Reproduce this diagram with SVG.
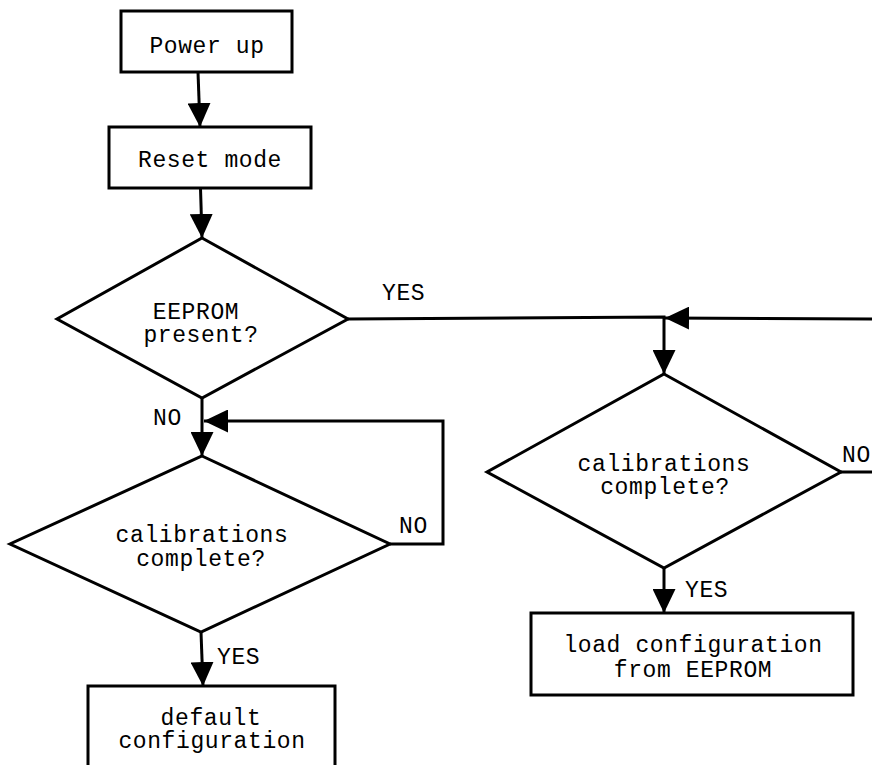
<svg xmlns="http://www.w3.org/2000/svg" width="872" height="765" viewBox="0 0 872 765">
<style>
.box{fill:#fff;stroke:#000;stroke-width:3}
.con{fill:none;stroke:#000;stroke-width:3}
text{font-family:"Liberation Mono","Courier New",monospace;font-size:23px;letter-spacing:0.6px;fill:#000;text-anchor:middle}
.lbl{text-anchor:start}
</style>
<defs>
<marker id="ah" markerUnits="userSpaceOnUse" markerWidth="24" markerHeight="23" refX="24" refY="11.5" orient="auto">
<path d="M0,0 L24,11.5 L0,23 z" fill="#000"/>
</marker>
</defs>
<rect width="872" height="765" fill="#fff"/>
<g id="connectors">
<path class="con" d="M198,72 L200,127" marker-end="url(#ah)"/>
<path class="con" d="M200.5,188 L202,238" marker-end="url(#ah)"/>
<path class="con" d="M348,319 L664,317 L664,374" marker-end="url(#ah)"/>
<path class="con" d="M841,472 L885,472 L885,319 L665,318" marker-end="url(#ah)"/>
<path class="con" d="M202,398 L202,456" marker-end="url(#ah)"/>
<path class="con" d="M390,544 L443,544 L443,421 L204,421" marker-end="url(#ah)"/>
<path class="con" d="M201,632 L203,686" marker-end="url(#ah)"/>
<path class="con" d="M664,568 L664,613" marker-end="url(#ah)"/>
<text class="lbl" x="382" y="300">YES</text>
<text class="lbl" x="153" y="425">NO</text>
<text class="lbl" x="399" y="533">NO</text>
<text class="lbl" x="217" y="664">YES</text>
<text class="lbl" x="842" y="462">NO</text>
<text class="lbl" x="685" y="597">YES</text>
</g>
<g id="power-up">
<rect class="box" x="121" y="11" width="171" height="61"/>
<text x="207" y="53">Power up</text>
</g>
<g id="reset-mode">
<rect class="box" x="109" y="127" width="202" height="61"/>
<text x="210" y="167">Reset mode</text>
</g>
<g id="eeprom-present">
<polygon class="box" points="202,238 348,319 202,398 57,319"/>
<text x="196" y="319">EEPROM</text>
<text x="201" y="342">present?</text>
</g>
<g id="calib-left">
<polygon class="box" points="202,456 390,544 201,632 10,544"/>
<text x="202" y="542">calibrations</text>
<text x="201" y="566">complete?</text>
</g>
<g id="calib-right">
<polygon class="box" points="664,374 841,472 664,568 487,472"/>
<text x="664" y="471">calibrations</text>
<text x="665" y="494">complete?</text>
</g>
<g id="default-config">
<rect class="box" x="88" y="686" width="247" height="100"/>
<text x="211" y="725">default</text>
<text x="212" y="748">configuration</text>
</g>
<g id="load-config">
<rect class="box" x="531" y="613" width="322" height="82"/>
<text x="693" y="652">load configuration</text>
<text x="693" y="677">from EEPROM</text>
</g>
</svg>
